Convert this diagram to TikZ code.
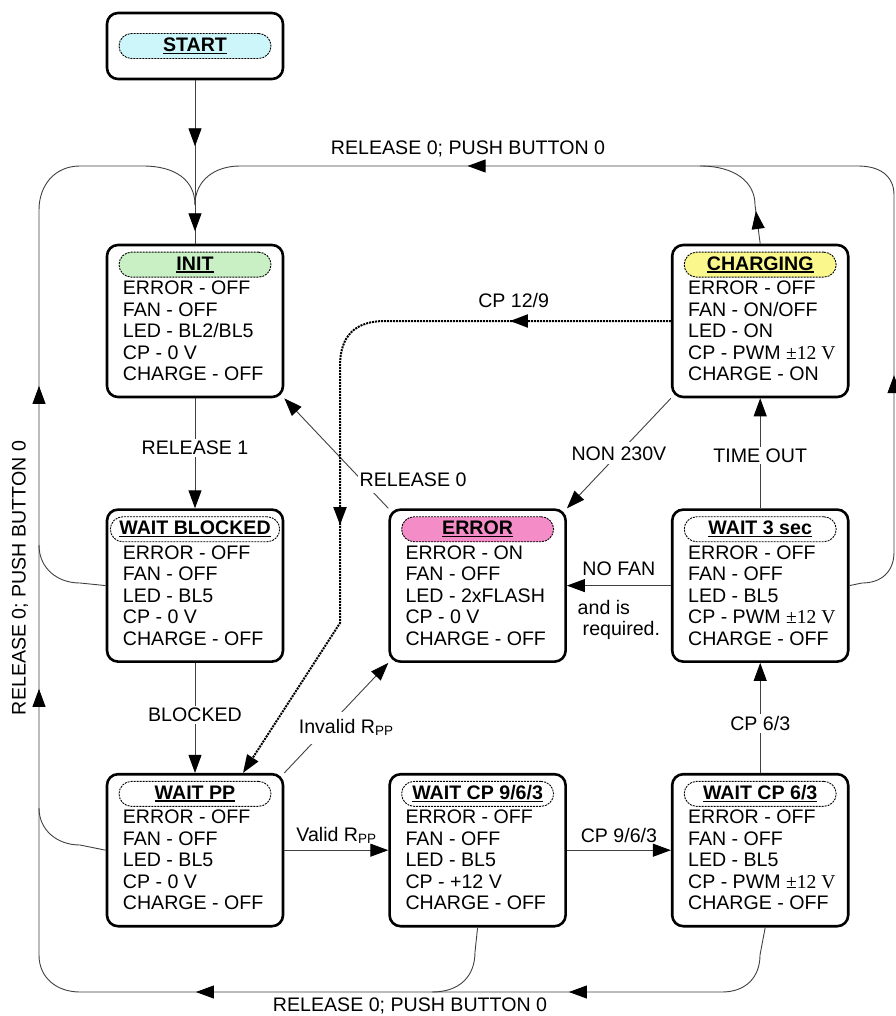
\documentclass[tikz,border=0pt]{standalone}
\usepackage{fontspec}
\setmainfont{Liberation Sans}
\newfontfamily\timesfont{Liberation Serif}
\usepackage{tikz}
\usetikzlibrary{arrows.meta,positioning,decorations.markings}

\definecolor{startcyan}{HTML}{CCF6FA}
\definecolor{initgreen}{HTML}{C8F0C4}
\definecolor{chargeyellow}{HTML}{FAF88C}
\definecolor{errorpink}{HTML}{F48CC8}
\definecolor{linegray}{gray}{0.25}

\newcommand{\titleul}[1]{\sbox0{#1}\rlap{\rule[-2.6pt]{\wd0}{1.6pt}}\usebox0}
\newcommand{\pwmv}{{\timesfont ±12 V}}
\newcommand{\ppsub}{\raisebox{-2pt}{\fontsize{13.5}{13.5}\selectfont PP}}

\begin{document}
\begin{tikzpicture}[x=1pt,y=-1pt,
    font=\fontsize{19.6}{21.5}\selectfont,
    statebox/.style={draw, line width=2.6pt, rounded corners=11pt, minimum width=176pt, minimum height=152pt, inner sep=0pt},
    pill/.style={draw, dash pattern=on 2pt off 1pt, line width=0.9pt, rounded corners=12.5pt, minimum width=152pt, minimum height=25pt, inner xsep=9pt, inner ysep=0pt, font=\fontsize{19.6}{21.5}\selectfont\bfseries},
    body/.style={align=left, inner sep=0pt},
    conn/.style={draw=linegray, line width=0.9pt},
    dotline/.style={draw=black, line width=2pt, dash pattern=on 2pt off 1pt},
    endtip/.style={-{Triangle[length=18pt,width=13pt,color=black]}},
    tipat/.style={postaction={decorate,decoration={markings,mark=at position #1 with {\arrow{Triangle[length=18pt,width=13pt,color=black]}}}}},
    lbl/.style={fill=white, inner sep=2pt}]
    \useasboundingbox (0,0) rectangle (895,1016);

    % states
    \node[statebox, minimum height=66pt] (start) at (195,46) {};
    \node[pill, fill=startcyan] (starttitle) at (start) {\titleul{START}};

    \node[statebox] (init) at (195,321) {};
    \node[pill, fill=initgreen, below=8pt of init.north] (inittitle) {\titleul{INIT}};
    \node[body, below right=37pt and 17pt of init.north west] (initbody) {ERROR - OFF\\FAN - OFF\\LED - BL2/BL5\\CP - 0 V\\CHARGE - OFF};

    \node[statebox, below=110pt of init] (waitblocked) {};
    \node[pill, fill=white, below=8pt of waitblocked.north] (waitblockedtitle) {\titleul{WAIT BLOCKED}};
    \node[body, below right=37pt and 17pt of waitblocked.north west] (waitblockedbody) {ERROR - OFF\\FAN - OFF\\LED - BL5\\CP - 0 V\\CHARGE - OFF};

    \node[statebox, below=110pt of waitblocked] (waitpp) {};
    \node[pill, fill=white, below=8pt of waitpp.north] (waitpptitle) {\titleul{WAIT PP}};
    \node[body, below right=37pt and 17pt of waitpp.north west] (waitppbody) {ERROR - OFF\\FAN - OFF\\LED - BL5\\CP - 0 V\\CHARGE - OFF};

    \node[statebox, right=104pt of waitblocked] (error) {};
    \node[pill, fill=errorpink, below=8pt of error.north] (errortitle) {\titleul{ERROR}};
    \node[body, below right=37pt and 17pt of error.north west] (errorbody) {ERROR - ON\\FAN - OFF\\LED - 2xFLASH\\CP - 0 V\\CHARGE - OFF};

    \node[statebox, right=104pt of waitpp] (waitcpnine) {};
    \node[pill, fill=white, below=8pt of waitcpnine.north] (waitcpninetitle) {\titleul{WAIT CP 9/6/3}};
    \node[body, below right=37pt and 17pt of waitcpnine.north west] (waitcpninebody) {ERROR - OFF\\FAN - OFF\\LED - BL5\\CP - +12 V\\CHARGE - OFF};

    \node[statebox, right=104pt of error] (waitthree) {};
    \node[pill, fill=white, below=8pt of waitthree.north] (waitthreetitle) {\titleul{WAIT 3 sec}};
    \node[body, below right=37pt and 17pt of waitthree.north west] (waitthreebody) {ERROR - OFF\\FAN - OFF\\LED - BL5\\CP - PWM \pwmv\\CHARGE - OFF};

    \node[statebox, right=104pt of waitcpnine] (waitcpsix) {};
    \node[pill, fill=white, below=8pt of waitcpsix.north] (waitcpsixtitle) {\titleul{WAIT CP 6/3}};
    \node[body, below right=37pt and 17pt of waitcpsix.north west] (waitcpsixbody) {ERROR - OFF\\FAN - OFF\\LED - BL5\\CP - PWM \pwmv\\CHARGE - OFF};

    \node[statebox, above=110pt of waitthree] (charging) {};
    \node[pill, fill=chargeyellow, below=8pt of charging.north] (chargingtitle) {\titleul{CHARGING}};
    \node[body, below right=37pt and 17pt of charging.north west] (chargingbody) {ERROR - OFF\\FAN - ON/OFF\\LED - ON\\CP - PWM \pwmv\\CHARGE - ON};

    % join points of the loops
    \coordinate (merge) at (195,205);
    \coordinate (topjoin) at (700,166);
    \coordinate (botjoin) at (432,992);
    \coordinate (blockjoin) at (39,545);
    \coordinate (ppjoin) at (39,808);

    % transitions
    \draw[conn, tipat=66pt, tipat=151pt] (start) -- (init);
    \draw[conn, endtip] (init) -- node[lbl, pos=0.45] {RELEASE 1} (waitblocked);
    \draw[conn, endtip] (waitblocked) -- node[lbl, pos=0.47] {BLOCKED} (waitpp);
    \draw[conn, endtip] (waitpp) -- node[above=4pt, inner sep=2pt] {Valid R\ppsub} (waitcpnine);
    \draw[conn, endtip] (waitcpnine) -- node[above=5pt, inner sep=2pt] {CP 9/6/3} (waitcpsix);
    \draw[conn, endtip] (waitcpsix) -- node[lbl, pos=0.45] {CP 6/3} (waitthree);
    \draw[conn, endtip] (waitthree) -- node[lbl, pos=0.48] {TIME OUT} (charging);
    \draw[conn, endtip] (waitthree) -- node[above=7pt, inner sep=2pt] (nofan) {NO FAN}
        node[below=12pt, inner sep=2pt, align=left] (nofanreq) {and is\\\hspace{5pt}required.} (error);
    \draw[conn, endtip] (charging.south west) -- node[lbl, inner sep=4pt] {NON 230V} (error.north east);
    \draw[conn, endtip] (error.north west) -- node[lbl, pos=0.26, anchor=west, xshift=-4pt, inner ysep=6pt] {RELEASE 0} (init.south east);
    \draw[conn, endtip] (waitpp.north east) -- node[lbl, pos=0.41, xshift=19pt, inner ysep=8pt] {Invalid R\ppsub} (error.south west);
    \draw[dotline, endtip, tipat=161pt, tipat=518pt] (charging.west) -- node[above=10pt, inner sep=2pt, pos=0.55] {CP 12/9} (385,321)
        .. controls (355,321) and (340,336) .. (340,366) -- (340,623) -- ([xshift=48pt]waitpp.north);

    % release loops
    \draw[conn, tipat=240pt, tipat=863pt] (waitthree.east) -- (862,583) .. controls (881,583) and (894,572) .. (894,552)
        -- (894,195) .. controls (894,176) and (880,166) .. (858,166) -- (240,166) .. controls (215,166) and (195,180) .. (merge);
    \draw[conn, tipat=33pt] (charging.north) -- (755,205) .. controls (755,182) and (735,166) .. (topjoin);
    \draw[conn, tipat=241pt, tipat=614pt, tipat=1058pt, tipat=1361pt] ([xshift=5pt]waitcpsix.south) -- (760,955)
        .. controls (760,978) and (745,992) .. (722,992) -- (80,992) .. controls (57,992) and (39,978) .. (39,955)
        -- (39,210) .. controls (39,185) and (55,166) .. (80,166) -- (143,166) .. controls (175,166) and (195,180) .. (merge);
    \draw[conn] (waitcpnine.south) -- (475,952) .. controls (475,976) and (460,992) .. (botjoin);
    \draw[conn] (waitblocked.west) -- (80,583) .. controls (57,583) and (39,568) .. (blockjoin);
    \draw[conn] (waitpp.west) -- (80,845) .. controls (57,845) and (39,830) .. (ppjoin);

    \node[inner sep=2pt] (toplabel) at (468,149) {RELEASE 0; PUSH BUTTON 0};
    \node[inner sep=2pt] (bottomlabel) at (410,1006) {RELEASE 0; PUSH BUTTON 0};
    \node[inner sep=2pt, rotate=90] (leftlabel) at (20,578) {RELEASE 0; PUSH BUTTON 0};
\end{tikzpicture}
\end{document}
